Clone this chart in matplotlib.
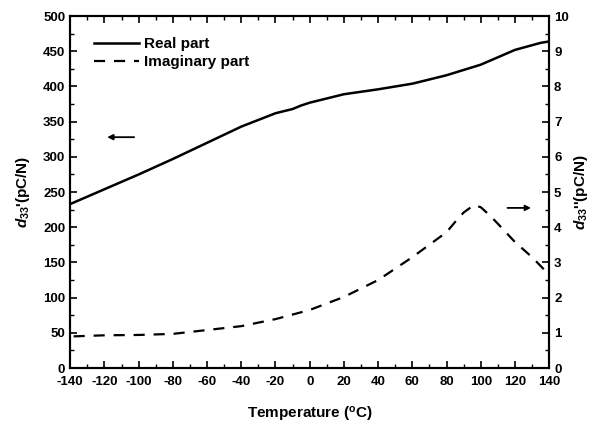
import matplotlib
matplotlib.use("Agg")
import matplotlib.pyplot as plt

plt.rcParams['font.family'] = ['Liberation Sans', 'DejaVu Sans']
plt.rcParams['font.weight'] = 'bold'
plt.rcParams['axes.labelweight'] = 'bold'
plt.rcParams['axes.unicode_minus'] = False
plt.rcParams['mathtext.fontset'] = 'custom'
plt.rcParams['mathtext.rm'] = 'Liberation Sans:bold'
plt.rcParams['mathtext.it'] = 'Liberation Sans:italic:bold'
plt.rcParams['mathtext.default'] = 'rm'

# real part (left axis)
t_real = [-140, -120, -100, -80, -60, -40, -20, -10, -5, 0, 20, 40, 60, 80, 100, 120, 135, 140]
d_real = [233, 254, 275, 297, 320, 343, 362, 368, 373, 377, 389, 396, 404, 416, 431, 452, 462, 464]

# imaginary part (right axis)
t_imag = [-138, -120, -100, -80, -60, -40, -20, -10, 0, 20, 40, 60, 80, 85, 90, 96, 100, 105, 110, 120, 130, 138]
d_imag = [0.90, 0.93, 0.94, 0.97, 1.08, 1.19, 1.39, 1.52, 1.65, 2.02, 2.50, 3.15, 3.86, 4.15, 4.42, 4.63, 4.57, 4.35, 4.10, 3.58, 3.15, 2.75]

fig = plt.figure(figsize=(5.95, 4.24), dpi=100)
ax = fig.add_axes([0.118, 0.132, 0.805, 0.830])
ax2 = ax.twinx()

l1, = ax.plot(t_real, d_real, 'k-', lw=1.8, label='Real part')
l2, = ax2.plot(t_imag, d_imag, 'k--', lw=1.6, dashes=(5, 4), label='Imaginary part')

ax.set_xlim(-140, 140)
ax.set_ylim(0, 500)
ax2.set_ylim(0, 10)
ax.set_xticks(range(-140, 141, 20))
ax.set_xticks(range(-140, 141, 10), minor=True)
ax.set_yticks(range(0, 501, 50))
ax.set_yticks(range(0, 501, 25), minor=True)
ax2.set_yticks(range(0, 11, 1))
ax2.set_yticks([i * 0.5 for i in range(21)], minor=True)

ax.tick_params(which='both', direction='in', top=True, labelsize=9.5)
ax.tick_params(axis='x', pad=6)
ax.tick_params(which='major', length=5, width=1.2)
ax.tick_params(which='minor', length=3, width=1)
ax2.tick_params(which='both', direction='in', labelsize=9.5)
ax2.tick_params(which='major', length=5, width=1.2)
ax2.tick_params(which='minor', length=3, width=1)
for a in (ax, ax2):
    for s in a.spines.values():
        s.set_linewidth(1.5)

ax.set_xlabel('Temperature ($^o$C)', fontsize=11, labelpad=12)
ax.set_ylabel("$\\mathit{d}_{33}$'(pC/N)", fontsize=11, labelpad=8)
ax2.set_ylabel("$\\mathit{d}_{33}$''(pC/N)", fontsize=11, labelpad=2, rotation=90)

ax.legend(handles=[l1, l2], loc='upper left', bbox_to_anchor=(0.02, 0.98),
          frameon=False, fontsize=11, handlelength=3.0, handletextpad=0.3,
          labelspacing=0.3)

# arrows pointing to the axes
ax.annotate('', xy=(-120, 328), xytext=(-101, 328),
            arrowprops=dict(arrowstyle='-|>', color='k', lw=1.3, mutation_scale=8))
ax2.annotate('', xy=(131, 4.55), xytext=(114, 4.55),
             arrowprops=dict(arrowstyle='-|>', color='k', lw=1.3, mutation_scale=8))

fig.savefig('out.png', dpi=100)
